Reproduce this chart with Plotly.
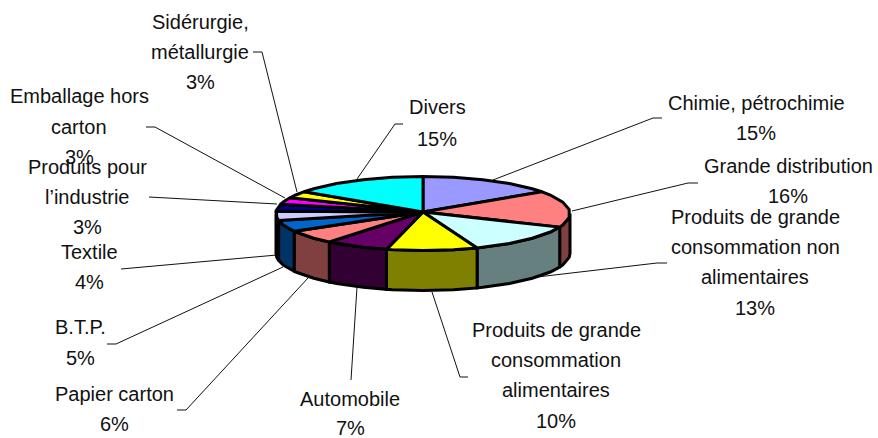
import math
import plotly.graph_objects as go

# ---- data ----
categories = ["Chimie, pétrochimie", "Grande distribution",
              "Produits de grande consommation non alimentaires",
              "Produits de grande consommation alimentaires",
              "Automobile", "Papier carton", "B.T.P.", "Textile",
              "Produits pour l’industrie", "Emballage hors carton",
              "Sidérurgie, métallurgie", "Divers"]
values = [15, 16, 13, 10, 7, 6, 5, 4, 3, 3, 3, 15]
top_colors = ["#9999FF", "#FF8080", "#CCFFFF", "#FFFF00", "#660066", "#FF8080",
              "#0066CC", "#CCCCFF", "#000080", "#FF00FF", "#FFFF00", "#00FFFF"]
side_colors = ["#4D4D80", "#804040", "#668080", "#808000", "#330033", "#804040",
               "#003366", "#666680", "#000040", "#800080", "#808000", "#008080"]

# ---- label layout (pixel space): wrapped lines, centre x, centre y of each line ----
label_lines = [
    (["Chimie, pétrochimie", "15%"], 756, [103, 133]),
    (["Grande distribution", "16%"], 788, [166, 196]),
    (["Produits de grande", "consommation non", "alimentaires", "13%"], 755, [217, 247, 277, 308]),
    (["Produits de grande", "consommation", "alimentaires", "10%"], 556, [330, 360, 390, 421]),
    (["Automobile", "7%"], 350, [399, 428]),
    (["Papier carton", "6%"], 114, [394, 424]),
    (["B.T.P.", "5%"], 80, [327, 358]),
    (["Textile", "4%"], 89, [252, 282]),
    (["Emballage hors", "carton", "3%"], 79, [96, 127, 157]),
    (["Produits pour", "l’industrie", "3%"], 87, [167, 197, 227]),
    (["Sidérurgie,", "métallurgie", "3%"], 200, [22, 52, 82]),
    (["Divers", "15%"], 437, [107, 139]),
]
leader_x = [[493, 653, 662], [572, 688, 698], [537, 657, 667], [432, 460, 468],
            [357, 351], [308, 186, 177], [283, 116, 107], [277, 128, 121],
            [285, 155, 146], [277, 157, 149], [297, 262, 253], [357, 395, 403]]
leader_y = [[180, 118, 118], [211, 183, 183], [277, 263, 263], [292, 377, 377],
            [287, 380], [278, 410, 410], [267, 344, 344], [255, 269, 269],
            [198, 127, 127], [204, 197, 197], [192, 52, 52], [179, 124, 124]]

# ---- pie geometry ----
CX, CY, APEX_Y = 423, 213.5, 212
RX, RY, DEPTH = 147, 37, 40
STEP = 12.0
EDGE = 3.0


def rim(theta, drop=0.0):
    t = math.radians(theta)
    return CX + RX * math.sin(t), CY - RY * math.cos(t) + drop


def arc_angles(a, b):
    pts = [a]
    k = math.floor(a / STEP) + 1
    while k * STEP < b - 0.5:
        if k * STEP > a + 0.5:
            pts.append(k * STEP)
        k += 1
    pts.append(b)
    return pts


total = sum(values)
edges = [0.0]
for v in values:
    edges.append(edges[-1] + 360.0 * v / total)

fig = go.Figure()

# leader lines beneath the pie
for lx, ly in zip(leader_x, leader_y):
    fig.add_trace(go.Scatter(x=lx, y=ly, mode="lines",
                             line=dict(color="#111111", width=1), hoverinfo="skip"))

# side walls, front half only
for i in range(len(values)):
    a, b = max(edges[i], 90.0), min(edges[i + 1], 270.0)
    if b <= a:
        continue
    angs = arc_angles(a, b)
    up = [rim(t) for t in angs]
    down = [rim(t, DEPTH) for t in reversed(angs)]
    poly = up + down + [up[0]]
    fig.add_trace(go.Scatter(x=[p[0] for p in poly], y=[p[1] for p in poly],
                             mode="lines", fill="toself", fillcolor=side_colors[i],
                             line=dict(color="black", width=EDGE), hoverinfo="skip"))

# top faces
for i in range(len(values)):
    pts = [rim(t) for t in arc_angles(edges[i], edges[i + 1])]
    poly = [(CX, APEX_Y)] + pts + [(CX, APEX_Y)]
    fig.add_trace(go.Scatter(x=[p[0] for p in poly], y=[p[1] for p in poly],
                             mode="lines", fill="toself", fillcolor=top_colors[i],
                             line=dict(color="black", width=EDGE), hoverinfo="skip"))

# labels
annotations = []
for lines, x, ys in label_lines:
    for text, y in zip(lines, ys):
        annotations.append(dict(x=x, y=y, text=text, showarrow=False,
                                xanchor="center", yanchor="middle", xref="x", yref="y",
                                font=dict(family="Liberation Sans", size=20, color="#111111")))

fig.update_layout(
    width=878, height=438, showlegend=False,
    margin=dict(l=0, r=0, t=0, b=0),
    paper_bgcolor="white", plot_bgcolor="white",
    xaxis=dict(range=[0, 878], visible=False, fixedrange=True),
    yaxis=dict(range=[438, 0], visible=False, fixedrange=True),
    annotations=annotations,
)
fig.write_html("out.html", config=dict(displayModeBar=False),
               post_script="document.body.style.margin='0';")
